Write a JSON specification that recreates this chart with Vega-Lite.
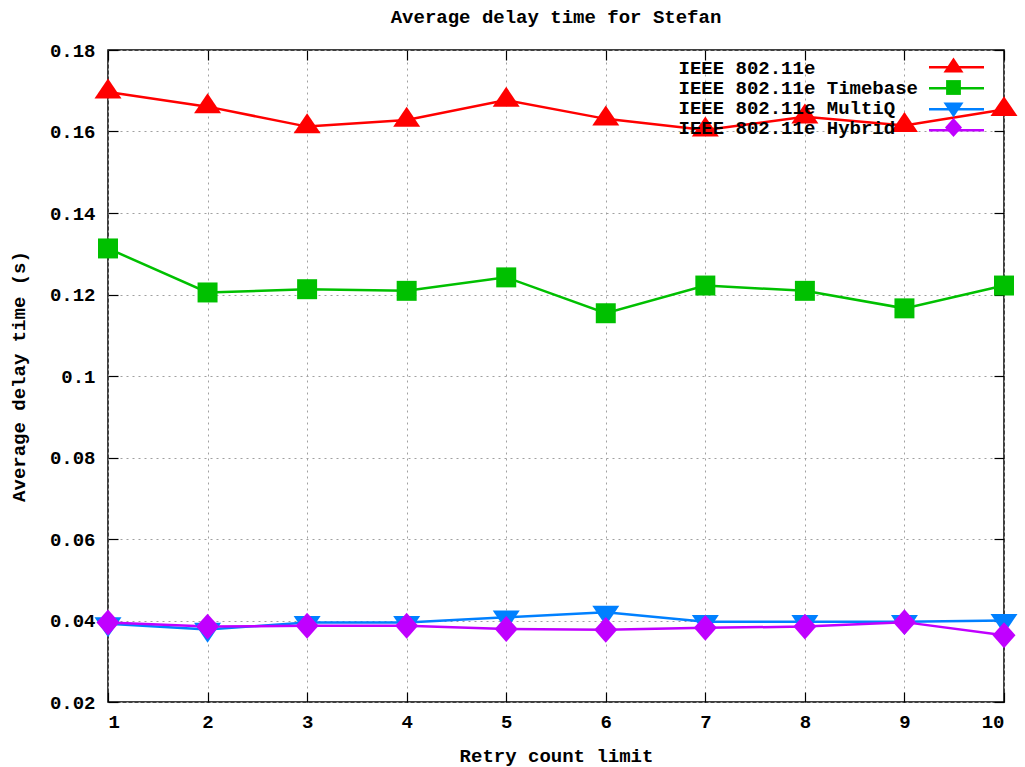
{
  "$schema": "https://vega.github.io/schema/vega-lite/v6.json",
  "autosize": "none",
  "width": 896,
  "height": 652,
  "padding": {"left": 108, "top": 50, "right": 21, "bottom": 65},
  "background": "white",
  "title": {
    "text": "Average delay time for Stefan",
    "font": "Liberation Mono",
    "fontSize": 19,
    "fontWeight": "bold",
    "color": "black",
    "anchor": "middle",
    "offset": 14
  },
  "config": {
    "view": {"stroke": "black", "strokeWidth": 1.5},
    "font": "Liberation Mono",
    "axis": {
      "labelFont": "Liberation Mono",
      "labelFontSize": 19,
      "labelFontWeight": "bold",
      "labelColor": "black",
      "titleFont": "Liberation Mono",
      "titleFontSize": 19,
      "titleFontWeight": "bold",
      "titleColor": "black",
      "domain": false,
      "tickColor": "black",
      "tickWidth": 1.2,
      "gridColor": "#a0a0a0",
      "gridDash": [2, 4],
      "gridWidth": 1,
      "gridOpacity": 1
    }
  },
  "data": {
    "values": [
      {"series": "IEEE 802.11e", "retry": 1, "delay": 0.1697},
      {"series": "IEEE 802.11e", "retry": 2, "delay": 0.1661},
      {"series": "IEEE 802.11e", "retry": 3, "delay": 0.1612},
      {"series": "IEEE 802.11e", "retry": 4, "delay": 0.1628},
      {"series": "IEEE 802.11e", "retry": 5, "delay": 0.1677},
      {"series": "IEEE 802.11e", "retry": 6, "delay": 0.1631},
      {"series": "IEEE 802.11e", "retry": 7, "delay": 0.1604},
      {"series": "IEEE 802.11e", "retry": 8, "delay": 0.1636},
      {"series": "IEEE 802.11e", "retry": 9, "delay": 0.1615},
      {"series": "IEEE 802.11e", "retry": 10, "delay": 0.1654},
      {"series": "IEEE 802.11e Timebase", "retry": 1, "delay": 0.1313},
      {"series": "IEEE 802.11e Timebase", "retry": 2, "delay": 0.1205},
      {"series": "IEEE 802.11e Timebase", "retry": 3, "delay": 0.1213},
      {"series": "IEEE 802.11e Timebase", "retry": 4, "delay": 0.1209},
      {"series": "IEEE 802.11e Timebase", "retry": 5, "delay": 0.1242},
      {"series": "IEEE 802.11e Timebase", "retry": 6, "delay": 0.1154},
      {"series": "IEEE 802.11e Timebase", "retry": 7, "delay": 0.1222},
      {"series": "IEEE 802.11e Timebase", "retry": 8, "delay": 0.1209},
      {"series": "IEEE 802.11e Timebase", "retry": 9, "delay": 0.1166},
      {"series": "IEEE 802.11e Timebase", "retry": 10, "delay": 0.1222},
      {"series": "IEEE 802.11e MultiQ", "retry": 1, "delay": 0.0392},
      {"series": "IEEE 802.11e MultiQ", "retry": 2, "delay": 0.0378},
      {"series": "IEEE 802.11e MultiQ", "retry": 3, "delay": 0.0395},
      {"series": "IEEE 802.11e MultiQ", "retry": 4, "delay": 0.0395},
      {"series": "IEEE 802.11e MultiQ", "retry": 5, "delay": 0.0408},
      {"series": "IEEE 802.11e MultiQ", "retry": 6, "delay": 0.0420},
      {"series": "IEEE 802.11e MultiQ", "retry": 7, "delay": 0.0397},
      {"series": "IEEE 802.11e MultiQ", "retry": 8, "delay": 0.0397},
      {"series": "IEEE 802.11e MultiQ", "retry": 9, "delay": 0.0397},
      {"series": "IEEE 802.11e MultiQ", "retry": 10, "delay": 0.0400},
      {"series": "IEEE 802.11e Hybrid", "retry": 1, "delay": 0.0395},
      {"series": "IEEE 802.11e Hybrid", "retry": 2, "delay": 0.0385},
      {"series": "IEEE 802.11e Hybrid", "retry": 3, "delay": 0.0387},
      {"series": "IEEE 802.11e Hybrid", "retry": 4, "delay": 0.0387},
      {"series": "IEEE 802.11e Hybrid", "retry": 5, "delay": 0.0379},
      {"series": "IEEE 802.11e Hybrid", "retry": 6, "delay": 0.0377},
      {"series": "IEEE 802.11e Hybrid", "retry": 7, "delay": 0.0382},
      {"series": "IEEE 802.11e Hybrid", "retry": 8, "delay": 0.0385},
      {"series": "IEEE 802.11e Hybrid", "retry": 9, "delay": 0.0396},
      {"series": "IEEE 802.11e Hybrid", "retry": 10, "delay": 0.0364}
    ]
  },
  "encoding": {
    "x": {
      "field": "retry",
      "type": "quantitative",
      "scale": {"domain": [1, 10], "nice": false, "zero": false}
    },
    "y": {
      "field": "delay",
      "type": "quantitative",
      "scale": {"domain": [0.02, 0.18], "nice": false, "zero": false}
    }
  },
  "layer": [
    {
      "mark": {"type": "line", "strokeWidth": 2.5},
      "encoding": {
        "x": {
          "field": "retry",
          "type": "quantitative",
          "axis": {
            "orient": "bottom",
            "title": "Retry count limit",
            "values": [1, 2, 3, 4, 5, 6, 7, 8, 9, 10],
            "format": "d",
            "grid": true,
            "tickSize": -10,
            "labelPadding": 20,
            "titleX": 448,
            "titleY": 53,
            "titleAlign": "center",
            "titleBaseline": "middle"
          }
        },
        "y": {
          "field": "delay",
          "type": "quantitative",
          "axis": {
            "orient": "left",
            "title": "Average delay time (s)",
            "values": [0.02, 0.04, 0.06, 0.08, 0.1, 0.12, 0.14, 0.16, 0.18],
            "format": "~g",
            "grid": true,
            "tickSize": -10,
            "labelPadding": 23,
            "titleX": -90,
            "titleY": 326,
            "titleAngle": -90,
            "titleAlign": "center",
            "titleBaseline": "middle"
          }
        },
        "stroke": {
          "field": "series",
          "type": "nominal",
          "scale": {
            "domain": ["IEEE 802.11e Hybrid", "IEEE 802.11e MultiQ", "IEEE 802.11e Timebase", "IEEE 802.11e"],
            "range": ["#c000ff", "#0080ff", "#00c000", "#ff0000"]
          },
          "legend": {
            "orient": "none",
            "legendX": 542,
            "legendY": 7,
            "zindex": 0,
            "title": null,
            "padding": 0,
            "values": ["IEEE 802.11e", "IEEE 802.11e Timebase", "IEEE 802.11e MultiQ", "IEEE 802.11e Hybrid"],
            "labelExpr": "''",
            "labelFontSize": 19,
            "labelOffset": 5,
            "symbolType": "stroke",
            "symbolSize": 3025,
            "symbolStrokeWidth": 2.5,
            "symbolOffset": 277.5,
            "clipHeight": 20.7,
            "rowPadding": 0
          }
        }
      }
    },
    {
      "mark": {"type": "point", "filled": true, "opacity": 1, "strokeWidth": 0},
      "encoding": {
        "x": {
          "field": "retry",
          "type": "quantitative",
          "axis": {
            "orient": "top",
            "title": null,
            "labels": false,
            "grid": false,
            "values": [1, 2, 3, 4, 5, 6, 7, 8, 9, 10],
            "tickSize": -10
          }
        },
        "y": {
          "field": "delay",
          "type": "quantitative",
          "axis": {
            "orient": "right",
            "title": null,
            "labels": false,
            "grid": false,
            "values": [0.02, 0.04, 0.06, 0.08, 0.1, 0.12, 0.14, 0.16, 0.18],
            "tickSize": -10
          }
        },
        "color": {
          "field": "series",
          "type": "nominal",
          "scale": {
            "domain": ["IEEE 802.11e", "IEEE 802.11e Timebase", "IEEE 802.11e MultiQ", "IEEE 802.11e Hybrid"],
            "range": ["#ff0000", "#00c000", "#0080ff", "#c000ff"]
          },
          "legend": {
            "orient": "none",
            "legendX": 542,
            "legendY": 7.5,
            "zindex": 1,
            "title": null,
            "padding": 0,
            "symbolSize": 400,
            "symbolStrokeWidth": 0,
            "symbolOpacity": 1,
            "symbolOffset": 293.5,
            "labelFont": "Liberation Mono",
            "labelFontSize": 19,
            "labelFontWeight": "bold",
            "labelColor": "black",
            "labelLimit": 0,
            "labelAlign": "left",
            "labelOffset": -285,
            "rowPadding": -2.3
          }
        },
        "shape": {
          "field": "series",
          "type": "nominal",
          "scale": {
            "domain": ["IEEE 802.11e", "IEEE 802.11e Timebase", "IEEE 802.11e MultiQ", "IEEE 802.11e Hybrid"],
            "range": [
              "M0,-0.99L1,0.49L-1,0.49Z",
              "M-0.74,-0.74H0.74V0.74H-0.74Z",
              "M0,0.99L1,-0.49L-1,-0.49Z",
              "M0,-0.96L0.85,0L0,0.96L-0.85,0Z"
            ]
          }
        },
        "size": {"value": 729}
      }
    }
  ]
}
